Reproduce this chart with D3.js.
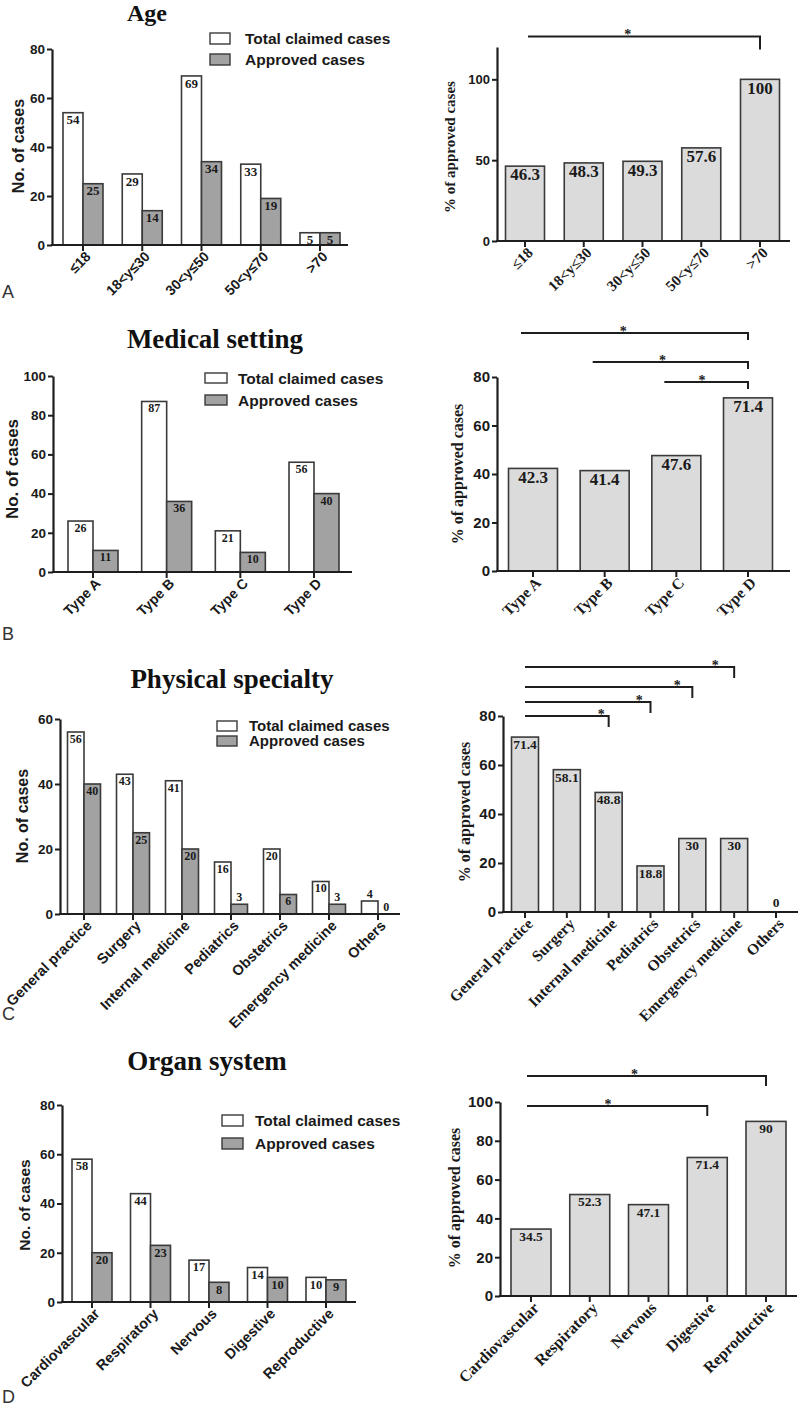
<!DOCTYPE html>
<html><head><meta charset="utf-8">
<script src="https://cdn.jsdelivr.net/npm/d3@7"></script>
<style>body{margin:0;background:#fff}svg{display:block}</style>
</head><body>
<svg id="c" width="800" height="1407"></svg>
<script>
// ---------- data ----------
const ageCats = ["≤18","18<y≤30","30<y≤50","50<y≤70",">70"];
const ageTotal = [54,29,69,33,5];
const ageApproved = [25,14,34,19,5];
const agePct = [46.3,48.3,49.3,57.6,100];
const ageSig = [[0,4]];

const settingCats = ["Type A","Type B","Type C","Type D"];
const settingTotal = [26,87,21,56];
const settingApproved = [11,36,10,40];
const settingPct = [42.3,41.4,47.6,71.4];
const settingSig = [[0,3],[1,3],[2,3]];

const specialtyCats = ["General practice","Surgery","Internal medicine","Pediatrics","Obstetrics","Emergency medicine","Others"];
const specialtyTotal = [56,43,41,16,20,10,4];
const specialtyApproved = [40,25,20,3,6,3,0];
const specialtyPct = [71.4,58.1,48.8,18.8,30,30,0];
const specialtySig = [[0,2],[0,3],[0,4],[0,5]];

const organCats = ["Cardiovascular","Respiratory","Nervous","Digestive","Reproductive"];
const organTotal = [58,44,17,14,10];
const organApproved = [20,23,8,10,9];
const organPct = [34.5,52.3,47.1,71.4,90];
const organSig = [[0,4],[0,3]];

const titles = ["Age","Medical setting","Physical specialty","Organ system"];
const panelLetters = ["A","B","C","D"];
const legendLabels = ["Total claimed cases","Approved cases"];
const leftYTitle = "No. of cases";
const rightYTitle = "% of approved cases";

// ---------- style ----------
const SANS = "'Liberation Sans', Arial, Helvetica, sans-serif";
const SERIF = "'Liberation Serif', 'Times New Roman', Times, serif";
const STROKE = "#3a3a3a";
const AXIS = "#1e1e1e";
const DARKFILL = "#a2a2a2";
const LIGHTFILL = "#dbdbdb";
const TXT = "#1a1a1a";

const svg = d3.select("#c");

function drawYAxis(g, y, ax, ticks, fs){
  const a = d3.axisLeft(y).tickValues(ticks).tickSize(5).tickSizeOuter(0).tickPadding(2);
  const gg = g.append("g").attr("transform",`translate(${ax},0)`).call(a);
  gg.select(".domain").attr("stroke",AXIS).attr("stroke-width",2.2);
  gg.selectAll(".tick line").attr("stroke",AXIS).attr("stroke-width",2);
  gg.selectAll(".tick text").attr("font-family",SANS).attr("font-weight","bold")
    .attr("font-size",fs).attr("fill",TXT);
}

function drawXAxis(g, x, cfg, font, fs){
  g.append("line").attr("x1",cfg.ax-1).attr("x2",cfg.axEnd).attr("y1",cfg.y0).attr("y2",cfg.y0)
    .attr("stroke",AXIS).attr("stroke-width",2.2);
  g.selectAll("line.xt").data(cfg.cats).join("line").attr("class","xt")
    .attr("x1",d=>x(d)).attr("x2",d=>x(d)).attr("y1",cfg.y0).attr("y2",cfg.y0+6)
    .attr("stroke",AXIS).attr("stroke-width",2);
  g.selectAll("text.xl").data(cfg.cats).join("text").attr("class","xl")
    .attr("transform",d=>`translate(${x(d)+5},${cfg.y0+9}) rotate(-45)`)
    .attr("text-anchor","end").attr("dy","0.35em")
    .attr("font-family",font).attr("font-weight","bold").attr("font-size",fs).attr("fill",TXT)
    .text(d=>d);
}

function leftChart(cfg){
  const g = svg.append("g");
  const y = d3.scaleLinear().domain([0,cfg.max]).range([cfg.y0,cfg.yTop]);
  const x = d3.scalePoint().domain(cfg.cats).range([cfg.c0,cfg.c1]);
  const rows = cfg.cats.map((c,i)=>({c,t:cfg.total[i],a:cfg.approved[i]}));
  // title
  g.append("text").attr("x",cfg.titleX).attr("y",cfg.titleY).attr("text-anchor","middle")
    .attr("font-family",SERIF).attr("font-weight","bold").attr("font-size",cfg.titleFs).attr("fill","#111")
    .text(cfg.title);
  // bars
  g.selectAll("rect.t").data(rows).join("rect").attr("class","t")
    .attr("x",d=>x(d.c)-cfg.bw).attr("y",d=>y(d.t)).attr("width",cfg.bw).attr("height",d=>y(0)-y(d.t))
    .attr("fill","#fff").attr("stroke",STROKE).attr("stroke-width",1.6);
  g.selectAll("rect.a").data(rows).join("rect").attr("class","a")
    .attr("x",d=>x(d.c)).attr("y",d=>y(d.a)).attr("width",cfg.bw).attr("height",d=>y(0)-y(d.a))
    .attr("fill",DARKFILL).attr("stroke",STROKE).attr("stroke-width",1.6);
  // value labels
  const lab = (v)=> v>=5 ? y(v)+cfg.vfs*0.66+3 : y(v)-3;
  g.selectAll("text.tv").data(rows).join("text").attr("class","tv")
    .attr("x",d=>x(d.c)-cfg.bw/2).attr("y",d=>lab(d.t)).attr("text-anchor","middle")
    .attr("font-family",SERIF).attr("font-weight","bold").attr("font-size",cfg.vfs).attr("fill",TXT)
    .text(d=>d.t);
  g.selectAll("text.av").data(rows).join("text").attr("class","av")
    .attr("x",d=>x(d.c)+cfg.bw/2).attr("y",d=>lab(d.a)).attr("text-anchor","middle")
    .attr("font-family",SERIF).attr("font-weight","bold").attr("font-size",cfg.vfs).attr("fill",TXT)
    .text(d=>d.a);
  drawYAxis(g,y,cfg.ax,cfg.ticks,13.5);
  drawXAxis(g,x,cfg,SANS,cfg.xfs);
  // y title
  g.append("text").attr("transform",`translate(${cfg.ytX},${cfg.ytY}) rotate(-90)`).attr("text-anchor","middle")
    .attr("font-family",SANS).attr("font-weight","bold").attr("font-size",cfg.ytFs).attr("fill",TXT).text(leftYTitle);
  // legend
  const fills = ["#fff",DARKFILL];
  legendLabels.forEach((l,i)=>{
    const yy = cfg.legY + i*cfg.legGap;
    g.append("rect").attr("x",cfg.legX).attr("y",yy).attr("width",cfg.legW).attr("height",cfg.legH)
      .attr("fill",fills[i]).attr("stroke",STROKE).attr("stroke-width",1.4);
    g.append("text").attr("x",cfg.legX+cfg.legW+cfg.legTx).attr("y",yy+cfg.legH/2).attr("dy","0.36em")
      .attr("font-family",SANS).attr("font-weight","bold").attr("font-size",cfg.legFs).attr("fill",TXT).text(l);
  });
}

function rightChart(cfg){
  const g = svg.append("g");
  const y = d3.scaleLinear().domain([0,cfg.max]).range([cfg.y0,cfg.yTop]);
  const x = d3.scalePoint().domain(cfg.cats).range([cfg.c0,cfg.c1]);
  const rows = cfg.cats.map((c,i)=>({c,v:cfg.pct[i]}));
  g.selectAll("rect.p").data(rows).join("rect").attr("class","p")
    .attr("x",d=>x(d.c)-cfg.bw/2).attr("y",d=>y(d.v)).attr("width",cfg.bw).attr("height",d=>y(0)-y(d.v))
    .attr("fill",LIGHTFILL).attr("stroke",STROKE).attr("stroke-width",1.6)
    .attr("display",d=>d.v>0?null:"none");
  g.selectAll("text.pv").data(rows).join("text").attr("class","pv")
    .attr("x",d=>x(d.c)).attr("y",d=>d.v>=5 ? y(d.v)+cfg.vfs*0.66+3 : y(d.v)-5).attr("text-anchor","middle")
    .attr("font-family",SERIF).attr("font-weight","bold").attr("font-size",cfg.vfs).attr("fill",TXT)
    .text(d=>d.v);
  drawYAxis(g,y,cfg.ax,cfg.ticks,cfg.tfs);
  drawXAxis(g,x,cfg,SERIF,cfg.xfs);
  g.append("text").attr("transform",`translate(${cfg.ytX},${cfg.ytY}) rotate(-90)`).attr("text-anchor","middle")
    .attr("font-family",SERIF).attr("font-weight","bold").attr("font-size",cfg.ytFs).attr("fill",TXT).text(rightYTitle);
  // significance brackets
  cfg.sig.forEach((s,i)=>{
    const x1 = x(cfg.cats[s[0]]) + cfg.sigOff, x2 = x(cfg.cats[s[1]]);
    const yy = y(cfg.sigLevels[i]);
    g.append("path").attr("d",`M${x1},${yy}H${x2}V${yy+cfg.sigDrop}`)
      .attr("fill","none").attr("stroke",AXIS).attr("stroke-width",2);
    g.append("text").attr("x",x1+(x2-x1)*cfg.starFrac).attr("y",yy+3).attr("text-anchor","middle")
      .attr("font-family",SERIF).attr("font-weight","bold").attr("font-size",14).attr("fill",TXT).text("*");
  });
}

// ---------- panels ----------
leftChart({cats:ageCats,total:ageTotal,approved:ageApproved,max:80,ticks:[0,20,40,60,80],
  ax:52,axEnd:348,y0:245,yTop:49,c0:83,c1:320,bw:20,vfs:13,xfs:14,
  title:titles[0],titleX:147,titleY:21,titleFs:24,ytX:24,ytY:146,ytFs:16,
  legX:210,legY:33,legW:20,legH:11,legGap:21,legTx:15,legFs:15.5});
rightChart({cats:ageCats,pct:agePct,max:120,ticks:[0,50,100],
  ax:497,axEnd:790,y0:241,yTop:47,c0:525,c1:760,bw:39,vfs:17,xfs:15,tfs:13,
  ytX:455,ytY:147,ytFs:15,sig:ageSig,sigLevels:[126.5],sigDrop:13,sigOff:3,starFrac:0.43});

leftChart({cats:settingCats,total:settingTotal,approved:settingApproved,max:100,ticks:[0,20,40,60,80,100],
  ax:53,axEnd:352,y0:572,yTop:376,c0:93,c1:314,bw:25,vfs:12,xfs:14,
  title:titles[1],titleX:215,titleY:348,titleFs:27,ytX:18,ytY:469,ytFs:17,
  legX:205,legY:373,legW:22,legH:10,legGap:22,legTx:11,legFs:15.5});
rightChart({cats:settingCats,pct:settingPct,max:80,ticks:[0,20,40,60,80],
  ax:497,axEnd:790,y0:571,yTop:377,c0:533,c1:748,bw:49,vfs:17,xfs:15.5,tfs:15,
  ytX:463,ytY:474,ytFs:16,sig:settingSig,sigLevels:[98.1,86.2,77.9],sigDrop:7,sigOff:-12,starFrac:0.45});

leftChart({cats:specialtyCats,total:specialtyTotal,approved:specialtyApproved,max:60,ticks:[0,20,40,60],
  ax:60,axEnd:400,y0:914,yTop:719,c0:84,c1:378,bw:16.5,vfs:12,xfs:14.5,
  title:titles[2],titleX:232,titleY:688,titleFs:27,ytX:28,ytY:816,ytFs:16,
  legX:217,legY:721,legW:20,legH:10,legGap:15,legTx:12,legFs:15});
rightChart({cats:specialtyCats,pct:specialtyPct,max:80,ticks:[0,20,40,60,80],
  ax:503,axEnd:798,y0:912,yTop:716,c0:525,c1:776,bw:27,vfs:13.5,xfs:15.5,tfs:15,
  ytX:470,ytY:812,ytFs:16,sig:specialtySig,sigLevels:[80,85.7,91.8,100],sigDrop:11,sigOff:0,starFrac:0.91});

leftChart({cats:organCats,total:organTotal,approved:organApproved,max:80,ticks:[0,20,40,60,80],
  ax:62,axEnd:356,y0:1302,yTop:1105,c0:92,c1:326,bw:20,vfs:12.5,xfs:14.5,
  title:titles[3],titleX:207,titleY:1070,titleFs:27,ytX:30,ytY:1205,ytFs:15.5,
  legX:222,legY:1115,legW:21,legH:11,legGap:23,legTx:12,legFs:15.5});
rightChart({cats:organCats,pct:organPct,max:100,ticks:[0,20,40,60,80,100],
  ax:500,axEnd:797,y0:1296,yTop:1102,c0:531,c1:766,bw:40,vfs:13.5,xfs:16,tfs:15,
  ytX:460,ytY:1198,ytFs:16,sig:organSig,sigLevels:[113.4,97.9],sigDrop:10,sigOff:-4,starFrac:0.45});

// panel letters
const letterY = [298,640,1020,1403];
svg.selectAll("text.pl").data(panelLetters).join("text").attr("class","pl")
  .attr("x",2).attr("y",(d,i)=>letterY[i]).attr("font-family",SANS).attr("font-size",18).attr("fill","#333")
  .text(d=>d);
</script>
</body></html>
